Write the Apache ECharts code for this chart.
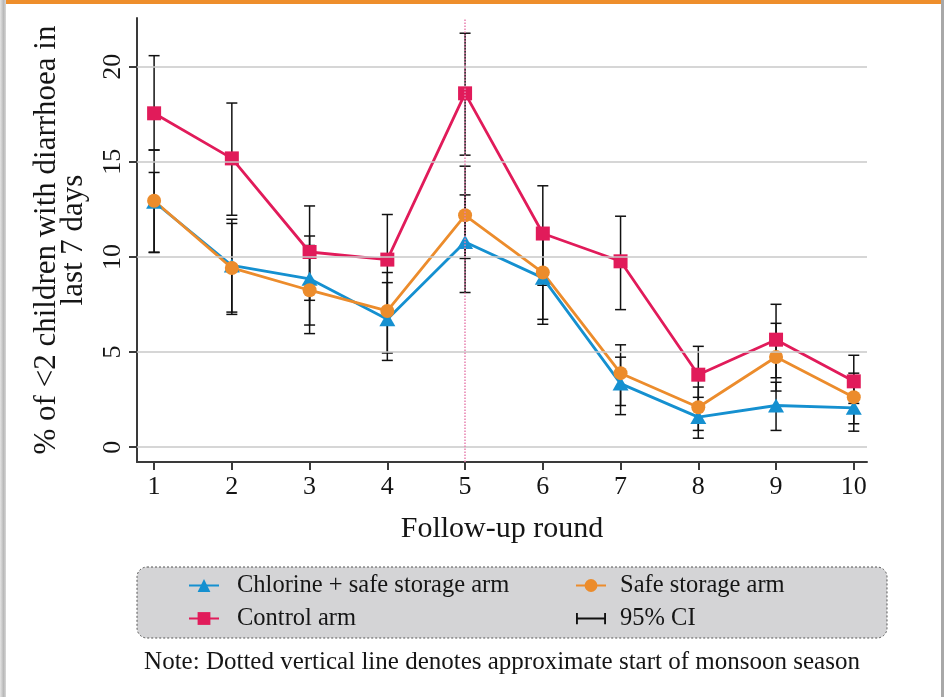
<!DOCTYPE html>
<html><head><meta charset="utf-8">
<script src="https://cdn.jsdelivr.net/npm/echarts@6/dist/echarts.min.js"></script>
<style>html,body{margin:0;padding:0;background:#fff}#c{width:944px;height:697px}</style>
</head><body><div id="c"></div><script>
// ---- data ----
const rounds = [1, 2, 3, 4, 5, 6, 7, 8, 9, 10];
const chlorine    = [12.9, 9.55, 8.85, 6.72, 10.79, 8.9, 3.34, 1.58, 2.19, 2.07];
const safeStorage = [12.95, 9.42, 8.25, 7.16, 12.19, 9.18, 3.89, 2.1, 4.74, 2.63];
const control     = [17.55, 15.18, 10.26, 9.86, 18.6, 11.23, 9.77, 3.81, 5.65, 3.46];
const chlorineLo = [10.25, 7.1, 6.42, 4.56, 8.13, 6.46, 1.71, 0.47, 0.88, 0.84];
const chlorineHi = [15.62, 11.98, 11.1, 8.65, 13.26, 11.2, 4.73, 2.62, 3.41, 3.4];
const safeLo     = [10.23, 6.98, 5.97, 4.95, 9.92, 6.72, 2.19, 0.88, 2.95, 1.23];
const safeHi     = [14.44, 11.76, 10.6, 9.18, 14.77, 11.5, 5.38, 3.16, 6.51, 3.89];
const controlLo  = [15.62, 12.19, 7.72, 7.3, 15.35, 8.51, 7.23, 1.32, 3.65, 2.3];
const controlHi  = [20.58, 18.09, 12.68, 12.23, 21.76, 13.74, 12.14, 5.3, 7.51, 4.83];
const yTicks = [0, 5, 10, 15, 20];
const xTicks = rounds;
const monsoonRound = 5;

const FONT = '"Liberation Serif", "Times New Roman", serif';
const BLUE = '#1590d0', ORANGE = '#ec8c2c', RED = '#e11b5a', TXT = '#151515';

const ciData = [];
rounds.forEach((r, i) => {
  ciData.push([r, chlorineLo[i], chlorineHi[i]]);
  ciData.push([r, safeLo[i], safeHi[i]]);
  ciData.push([r, controlLo[i], controlHi[i]]);
});
const pts = arr => rounds.map((r, i) => [r, arr[i]]);

function renderCI(params, api) {
  const x = api.value(0), lo = api.value(1), hi = api.value(2);
  const p1 = api.coord([x, lo]), p2 = api.coord([x, hi]);
  const w = 5.5;
  const style = { stroke: '#111', lineWidth: 1.5 };
  return { type: 'group', children: [
    { type: 'line', shape: { x1: p1[0], y1: p1[1], x2: p2[0], y2: p2[1] }, style },
    { type: 'line', shape: { x1: p1[0] - w, y1: p1[1], x2: p1[0] + w, y2: p1[1] }, style },
    { type: 'line', shape: { x1: p2[0] - w, y1: p2[1], x2: p2[0] + w, y2: p2[1] }, style }
  ]};
}

const chart = echarts.init(document.getElementById('c'), null, { renderer: 'canvas' });
const legendTextL = { fontFamily: FONT, fontSize: 24.5, color: TXT, padding: [0, 0, 0, 13] };
const legendTextR = { fontFamily: FONT, fontSize: 24.5, color: TXT, padding: [0, 0, 0, 9] };
chart.setOption({
  animation: false,
  backgroundColor: '#fff',
  grid: { left: 137, right: 77, top: 18, bottom: 235, containLabel: false },
  xAxis: {
    type: 'value', min: 0.78, max: 10.17,
    name: 'Follow-up round', nameLocation: 'middle', nameGap: 52,
    nameTextStyle: { fontFamily: FONT, fontSize: 30, color: TXT },
    axisLine: { onZero: false, lineStyle: { color: '#3a3a3a', width: 2 } },
    axisTick: { customValues: xTicks, length: 8, lineStyle: { color: '#3a3a3a', width: 2 } },
    axisLabel: { customValues: xTicks, margin: 12, fontFamily: FONT, fontSize: 26, color: TXT },
    splitLine: { show: false }
  },
  yAxis: {
    type: 'value', min: -0.78, max: 22.56,
    name: '% of <2 children with diarrhoea in\nlast 7 days', nameLocation: 'middle', nameGap: 50, nameRotate: 90,
    nameTextStyle: { fontFamily: FONT, fontSize: 31, color: TXT, lineHeight: 27 },
    axisLine: { onZero: false, lineStyle: { color: '#3a3a3a', width: 2 } },
    axisTick: { customValues: yTicks, length: 8, lineStyle: { color: '#3a3a3a', width: 2 } },
    axisLabel: { customValues: yTicks, rotate: 90, margin: 11, fontFamily: FONT, fontSize: 26, color: TXT },
    splitLine: { show: false }
  },
  legend: [
    { data: ['Chlorine + safe storage arm', 'Control arm'], orient: 'vertical', left: 183, top: 568, align: 'left',
      itemWidth: 30, itemHeight: 16, itemGap: 8, selectedMode: false, textStyle: legendTextL },
    { data: ['Safe storage arm', { name: '95% CI', icon: 'path://M0,0h2v12h-2z M2,5h28v2h-28z M30,0h2v12h-2z' }],
      orient: 'vertical', left: 570, top: 568, align: 'left',
      itemWidth: 30, itemHeight: 16, itemGap: 8, selectedMode: false, textStyle: legendTextR }
  ],
  graphic: [
    { type: 'rect', z: -10, shape: { x: 137, y: 567, width: 750, height: 71, r: 10 },
      style: { fill: '#d4d4d6', stroke: '#555', lineWidth: 1, lineDash: [2, 2] } },
    { type: 'text', x: 502, y: 662, z: 10,
      style: { text: 'Note: Dotted vertical line denotes approximate start of monsoon season',
        fontFamily: FONT, fontSize: 25, fill: TXT, align: 'center', verticalAlign: 'middle' } },
    { type: 'rect', z: 100, shape: { x: 0, y: 0, width: 944, height: 4 }, style: { fill: '#ee8e2b' } },
    { type: 'rect', z: 100, shape: { x: 0, y: 0, width: 6, height: 697 },
      style: { fill: new echarts.graphic.LinearGradient(0, 0, 1, 0, [
        { offset: 0, color: '#e4e4e4' }, { offset: 0.6, color: '#b8b8b8' }, { offset: 1, color: '#d8d8d8' }]) } },
    { type: 'rect', z: 100, shape: { x: 941, y: 0, width: 3, height: 697 }, style: { fill: '#a8a8a8' } }
  ],
  series: [
    { name: 'grid', type: 'line', data: pts(control), symbol: 'none', silent: true, z: 1,
      lineStyle: { width: 0, opacity: 0 },
      markLine: { silent: true, symbol: 'none', label: { show: false }, animation: false,
        lineStyle: { color: '#c9c9c9', width: 1.5, type: 'solid' },
        data: yTicks.map(v => ({ yAxis: v })).concat([
          { xAxis: monsoonRound, lineStyle: { color: '#e77fae', width: 1.5, type: 'dotted' } }]) } },
    { name: '95% CI', type: 'custom', renderItem: renderCI, data: ciData, z: 2,
      encode: { x: 0, y: [1, 2] }, itemStyle: { color: '#111' } },
    { name: 'Chlorine + safe storage arm', type: 'line', data: pts(chlorine), z: 3,
      symbol: 'triangle', symbolSize: [16, 14], lineStyle: { color: BLUE, width: 2.8 }, itemStyle: { color: BLUE } },
    { name: 'Safe storage arm', type: 'line', data: pts(safeStorage), z: 3,
      symbol: 'circle', symbolSize: 14, lineStyle: { color: ORANGE, width: 2.8 }, itemStyle: { color: ORANGE } },
    { name: 'Control arm', type: 'line', data: pts(control), z: 3,
      symbol: 'rect', symbolSize: 14, lineStyle: { color: RED, width: 2.8 }, itemStyle: { color: RED } }
  ]
});
</script></body></html>
